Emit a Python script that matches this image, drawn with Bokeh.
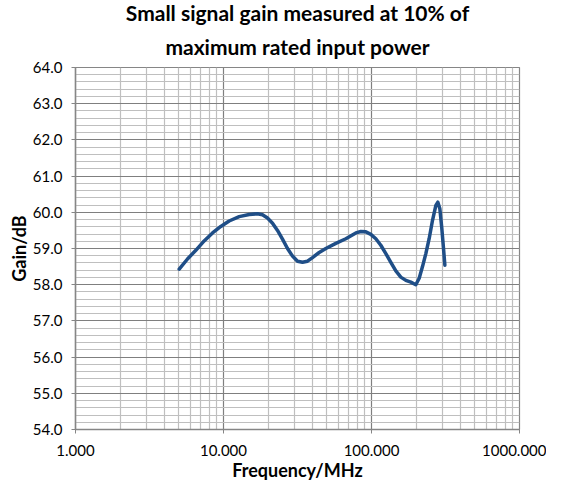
from bokeh.plotting import figure
from bokeh.models import FixedTicker, PrintfTickFormatter, Range1d, Title
from bokeh.embed import file_html
from bokeh.resources import INLINE

# Data
freq_mhz = [5.02, 5.71, 6.50, 7.40, 8.43, 9.59, 10.92, 12.76, 14.91, 16.97, 18.34,
            19.83, 21.44, 23.17, 25.04, 27.07, 29.26, 31.62, 34.18, 36.95, 39.94,
            44.31, 49.14, 57.41, 67.08, 78.38, 84.74, 91.56, 98.97, 106.98, 115.6,
            125.0, 135.1, 146.0, 157.8, 170.6, 184.4, 199.3, 210.0, 221.1, 232.9,
            245.2, 258.4, 272.2, 280.8, 289.6, 298.7, 306.6, 313.1]
gain_db = [58.43, 58.71, 58.95, 59.21, 59.43, 59.61, 59.76, 59.88, 59.94, 59.96, 59.93,
           59.84, 59.70, 59.50, 59.26, 59.00, 58.79, 58.65, 58.62, 58.65, 58.75,
           58.89, 59.00, 59.14, 59.27, 59.43, 59.47, 59.46, 59.39, 59.27, 59.09,
           58.86, 58.62, 58.38, 58.21, 58.12, 58.07, 58.00, 58.18, 58.50, 58.86,
           59.27, 59.78, 60.19, 60.28, 60.10, 59.55, 59.00, 58.54]

title_lines = ["Small signal gain measured at 10% of", "maximum rated input power"]
x_major = [1, 10, 100, 1000]
x_minor = [m * d for d in [1, 10, 100] for m in range(2, 10)]
y_major = list(range(54, 65))
y_minor = [54 + 0.2 * i for i in range(51)]

FONT = "Lato"

p = figure(frame_width=444, frame_height=362, x_axis_type="log",
           x_range=Range1d(1, 1000), y_range=Range1d(54, 64),
           output_backend="svg", toolbar_location=None,
           min_border_left=75, min_border_right=27, min_border_bottom=0, min_border_top=60)

def style_title(t):
    t.align = "center"
    t.text_font = FONT
    t.text_font_size = "21px"
    t.text_font_style = "bold"
    t.text_color = "black"

# later-added titles sit closer to the plot
p.title.text = title_lines[0]
style_title(p.title)
p.title.standoff = -5
t2 = Title(text=title_lines[1])
style_title(t2)
t2.standoff = 18
p.add_layout(t2, "above")

p.line(freq_mhz, gain_db, line_color="#1F4E87", line_width=3.5, line_join="round", line_cap="round")

for ax in (p.xaxis[0], p.yaxis[0]):
    ax.axis_line_color = "#868686"
    ax.axis_line_width = 1.5
    ax.major_tick_line_color = "#868686"
    ax.major_tick_out = 4
    ax.major_tick_in = 0
    ax.minor_tick_out = 0
    ax.minor_tick_in = 0
    ax.major_label_text_font = FONT
    ax.major_label_text_font_size = "15px"
    ax.major_label_text_color = "black"
    ax.axis_label_text_font = FONT
    ax.axis_label_text_font_size = "18px"
    ax.axis_label_text_font_style = "bold"
    ax.axis_label_text_color = "black"

p.xaxis.ticker = FixedTicker(ticks=x_major, minor_ticks=x_minor)
p.yaxis.ticker = FixedTicker(ticks=y_major, minor_ticks=y_minor)
p.xaxis.formatter = PrintfTickFormatter(format="%.3f")
p.yaxis.formatter = PrintfTickFormatter(format="%.1f")
p.xaxis.axis_label = "Frequency/MHz"
p.yaxis.axis_label = "Gain/dB"
p.xaxis.major_label_standoff = 11
p.xaxis.axis_label_standoff = 0
p.yaxis.major_label_standoff = 9
p.yaxis.axis_label_standoff = 0

for g in (p.xgrid[0], p.ygrid[0]):
    g.grid_line_color = "#7F7F7F"
    g.grid_line_width = 1.2
    g.minor_grid_line_color = "#BFBFBF"
    g.minor_grid_line_width = 1.2

p.outline_line_color = "#868686"
p.outline_line_width = 1.2
p.background_fill_color = "white"
p.border_fill_color = "white"

open("out.html", "w").write(file_html(p, INLINE))
